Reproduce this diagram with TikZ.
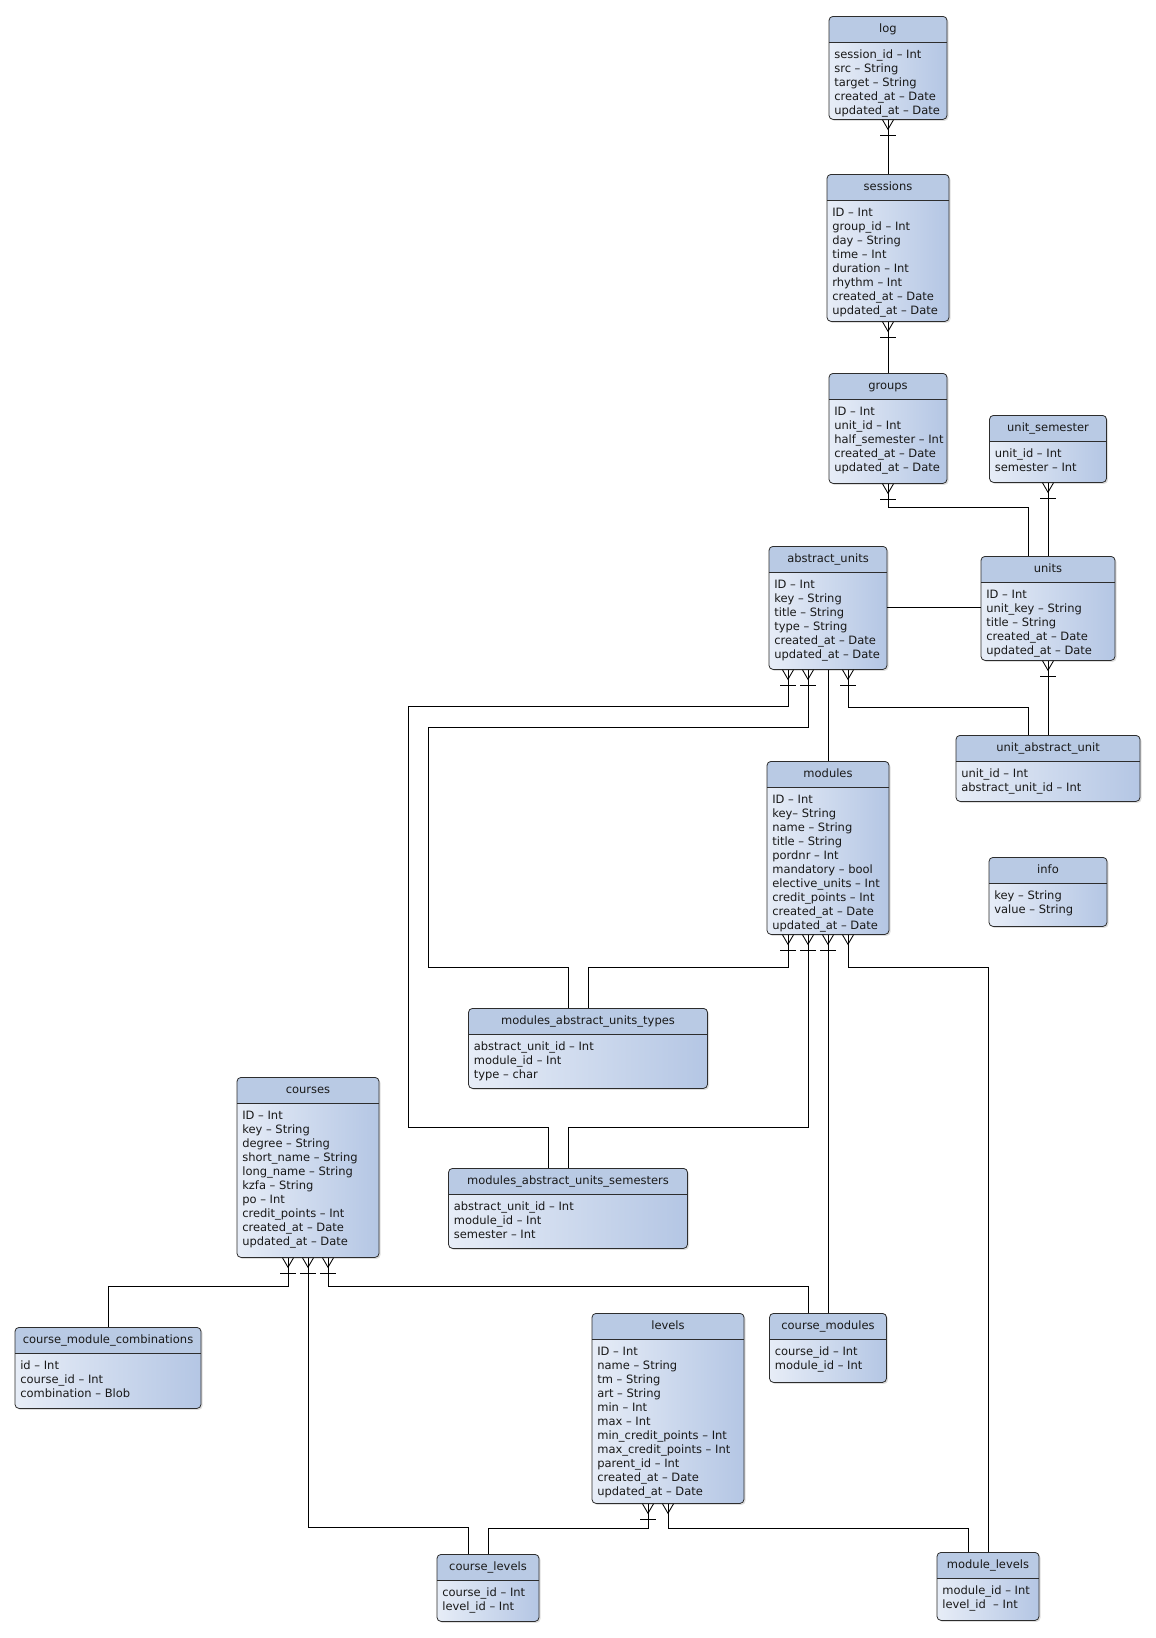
\documentclass[tikz,border=0pt]{standalone}
\usepackage{fontspec}
\setmainfont{DejaVu Sans}
\usetikzlibrary{shadows}
\definecolor{hdrblue}{RGB}{185,202,228}
\definecolor{bodylight}{RGB}{231,237,247}
\definecolor{bodydark}{RGB}{180,198,228}
\definecolor{framegray}{RGB}{45,45,45}

%% one table: name, centre x, top y, width, height, title, fields
\newcommand{\erbox}[7]{%
  \node[entity, minimum width=#4pt, minimum height=#5pt] (#1) at (#2,#3) {};
  \node[ttl] at ([yshift=-13pt]#1.north) {#6};
  \node[fields] at ([xshift=5.5pt,yshift=-32.5pt]#1.north west) {\strut#7};
}

\begin{document}
\begin{tikzpicture}[
  x=1pt, y=-1pt,
  font=\fontsize{11.5}{14}\selectfont,
  entity/.style={rectangle, rounded corners=4pt, draw=framegray, line width=0.8pt,
                 anchor=north, inner sep=0pt,
                 left color=bodylight, right color=bodydark,
                 drop shadow={shadow xshift=1.5pt, shadow yshift=-1.5pt, opacity=0.25},
                 path picture={
                   \fill[hdrblue, sharp corners] (path picture bounding box.north west)
                     rectangle ([yshift=-26pt]path picture bounding box.north east);
                   \draw[framegray, line width=0.8pt, sharp corners]
                     ([yshift=-26pt]path picture bounding box.north west)
                     -- ([yshift=-26pt]path picture bounding box.north east);}},
  ttl/.style={inner sep=0pt, text height=8.5pt, text depth=2.5pt, text=black!90},
  fields/.style={anchor=north west, inner sep=0pt, align=left, text=black!90},
  conn/.style={draw=black, line width=0.85pt},
  crowfoot/.pic={\draw[conn] (-5.5,0) -- (0,9.5) -- (5.5,0);},
  onebar/.pic={\draw[conn] (-8,15.5) -- (8,15.5);}
]
\path[use as bounding box, fill=white] (0,0) rectangle (1156,1638);

%% Tables
\erbox{log}{888}{16}{118}{103}{log}
  {session\_id – Int\\src – String\\target – String\\created\_at – Date\\updated\_at – Date}
\erbox{sessions}{888}{174}{122}{147}{sessions}
  {ID – Int\\group\_id – Int\\day – String\\time – Int\\duration – Int\\rhythm – Int\\created\_at – Date\\updated\_at – Date}
\erbox{groups}{888}{373}{118}{110}{groups}
  {ID – Int\\unit\_id – Int\\half\_semester – Int\\created\_at – Date\\updated\_at – Date}
\erbox{usem}{1048}{415}{117}{67}{unit\_semester}
  {unit\_id – Int\\semester – Int}
\erbox{au}{828}{546}{118}{123}{abstract\_units}
  {ID – Int\\key – String\\title – String\\type – String\\created\_at – Date\\updated\_at – Date}
\erbox{units}{1048}{556}{134}{104}{units}
  {ID – Int\\unit\_key – String\\title – String\\created\_at – Date\\updated\_at – Date}
\erbox{uau}{1048}{735}{184}{66}{unit\_abstract\_unit}
  {unit\_id – Int\\abstract\_unit\_id – Int}
\erbox{modules}{828}{761}{122}{173}{modules}
  {ID – Int\\key– String\\name – String\\title – String\\pordnr – Int\\mandatory – bool\\elective\_units – Int\\credit\_points – Int\\created\_at – Date\\updated\_at – Date}
\erbox{info}{1048}{857}{118}{69}{info}
  {key – String\\value – String}
\erbox{mat}{588}{1008}{239}{80}{modules\_abstract\_units\_types}
  {abstract\_unit\_id – Int\\module\_id – Int\\type – char}
\erbox{mas}{568}{1168}{239}{80}{modules\_abstract\_units\_semesters}
  {abstract\_unit\_id – Int\\module\_id – Int\\semester – Int}
\erbox{courses}{308}{1077}{142}{180}{courses}
  {ID – Int\\key – String\\degree – String\\short\_name – String\\long\_name – String\\kzfa – String\\po – Int\\credit\_points – Int\\created\_at – Date\\updated\_at – Date}
\erbox{cmc}{108}{1327}{186}{81}{course\_module\_combinations}
  {id – Int\\course\_id – Int\\combination – Blob}
\erbox{levels}{668}{1313}{152}{190}{levels}
  {ID – Int\\name – String\\tm – String\\art – String\\min – Int\\max – Int\\min\_credit\_points – Int\\max\_credit\_points – Int\\parent\_id – Int\\created\_at – Date\\updated\_at – Date}
\erbox{cm}{828}{1313}{117}{69}{course\_modules}
  {course\_id – Int\\module\_id – Int}
\erbox{cl}{488}{1554}{102}{67}{course\_levels}
  {course\_id – Int\\level\_id – Int}
\erbox{ml}{988}{1552}{102}{68}{module\_levels}
  {module\_id – Int\\level\_id\ \ – Int}

%% Routing lanes on the left
\coordinate (lane1) at (408,1127);
\coordinate (lane2) at (428,967);

%% Relations
\draw[conn] (log.south) -- (sessions.north);
\draw[conn] (sessions.south) -- (groups.north);
\draw[conn] (groups.south) -- ++(0,24) -| ([xshift=-20pt]units.north);
\draw[conn] (usem.south) -- (units.north);
\draw[conn] (au.east) -- (au.east -| units.west);
\draw[conn] (units.south) -- (uau.north);
\draw[conn] ([xshift=20pt]au.south) -- ++(0,38) -| ([xshift=-20pt]uau.north);
\draw[conn] (au.south) -- (modules.north);
\draw[conn] ([xshift=-40pt]au.south) -- ++(0,37) -| (lane1) -| ([xshift=-20pt]mas.north);
\draw[conn] ([xshift=-20pt]au.south) -- ++(0,58) -| (lane2) -| ([xshift=-20pt]mat.north);
\draw[conn] ([xshift=-40pt]modules.south) -- ++(0,33) -| (mat.north);
\draw[conn] ([xshift=-20pt]modules.south) -- ++(0,193) -| (mas.north);
\draw[conn] (modules.south) -- (cm.north);
\draw[conn] ([xshift=20pt]modules.south) -- ++(0,33) -| (ml.north);
\draw[conn] ([xshift=-20pt]courses.south) -- ++(0,29) -| (cmc.north);
\draw[conn] (courses.south) -- ++(0,270) -| ([xshift=-20pt]cl.north);
\draw[conn] ([xshift=20pt]courses.south) -- ++(0,29) -| ([xshift=-20pt]cm.north);
\draw[conn] ([xshift=-20pt]levels.south) -- ++(0,25) -| (cl.north);
\draw[conn] (levels.south) -- ++(0,25) -| ([xshift=-20pt]ml.north);

%% Many ends (crow's foot, with bar where mandatory)
\foreach \n/\dx in {log/0, sessions/0, groups/0, usem/0, units/0,
                    au/-40, au/-20, au/20, modules/-40, modules/-20, modules/0,
                    courses/-20, courses/0, courses/20, levels/-20} {
  \pic at ([xshift=\dx pt]\n.south) {crowfoot};
  \pic at ([xshift=\dx pt]\n.south) {onebar};
}
\pic at ([xshift=20pt]modules.south) {crowfoot};
\pic at (levels.south) {crowfoot};

\end{tikzpicture}
\end{document}
